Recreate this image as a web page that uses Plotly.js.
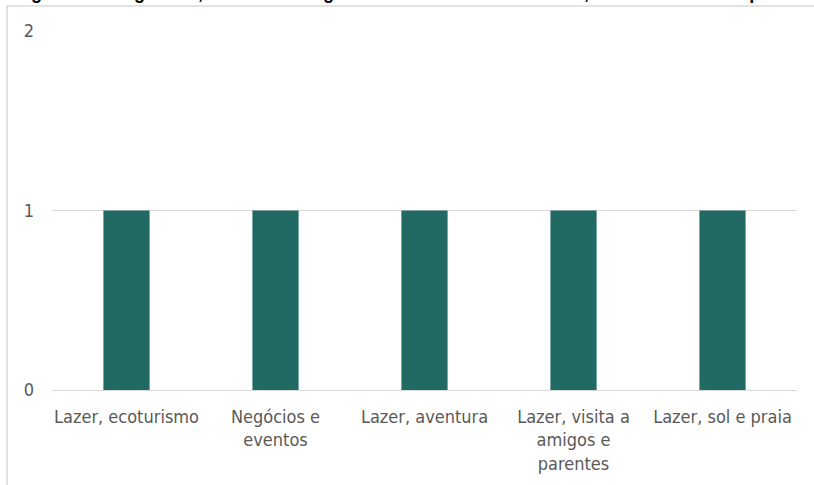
<!DOCTYPE html>
<html>
<head>
<meta charset="utf-8">
<script src="https://cdn.plot.ly/plotly-3.0.1.min.js"></script>
<style>
html,body{margin:0;padding:0;background:#fff;}
#chart{width:814px;height:485px;}
</style>
</head>
<body>
<div id="chart"></div>
<script>
const categories = ["Lazer, ecoturismo", "Negócios e<br>eventos", "Lazer, aventura", "Lazer, visita a<br>amigos e<br>parentes", "Lazer, sol e praia"];
const values = [1, 1, 1, 1, 1];
const yTicks = [0, 1, 2];
const titleText = "Figura 8 – Pergunta 8, motivo da viagem ao destino fora do estado, em número de respostas";

const font = "'DejaVu Sans Condensed', 'Liberation Sans Narrow', Arial, sans-serif";

const trace = {
  type: "bar",
  x: categories,
  y: values,
  marker: {color: "#216963"},
  width: 0.31,
  hoverinfo: "skip"
};

const layout = {
  width: 814,
  height: 485,
  margin: {l: 52, r: 17, t: 31, b: 95, pad: 0},
  paper_bgcolor: "#ffffff",
  plot_bgcolor: "#ffffff",
  showlegend: false,
  font: {family: font, size: 18, color: "#595959"},
  xaxis: {
    type: "category",
    showgrid: false,
    showline: false,
    zeroline: false,
    ticks: "",
    tickfont: {family: font, size: 18, color: "#595959"},
    ticklabelstandoff: 14,
    fixedrange: true
  },
  yaxis: {
    range: [0, 2],
    tickvals: yTicks,
    ticktext: yTicks.map(String),
    showgrid: true,
    gridcolor: "#d9d9d9",
    gridwidth: 1,
    zeroline: true,
    zerolinecolor: "#d9d9d9",
    zerolinewidth: 1,
    showline: false,
    ticks: "",
    ticklabelstandoff: 17,
    tickfont: {family: font, size: 18, color: "#595959"},
    fixedrange: true
  },
  shapes: [{
    type: "rect",
    xref: "paper", yref: "paper",
    x0: -0.0604, x1: 1.5,
    y0: -0.5, y1: 1.0696,
    line: {color: "#d9d9d9", width: 1.5},
    fillcolor: "rgba(0,0,0,0)",
    layer: "below"
  }],
  annotations: [{
    text: "<b>" + titleText + "</b>",
    xref: "paper", yref: "paper",
    x: -0.052, y: 1.072,
    xanchor: "left", yanchor: "bottom",
    showarrow: false,
    font: {family: "'Liberation Sans', Arial, sans-serif", size: 18, color: "#000000"}
  }]
};

Plotly.newPlot("chart", [trace], layout, {displayModeBar: false, staticPlot: true});
</script>
</body>
</html>
